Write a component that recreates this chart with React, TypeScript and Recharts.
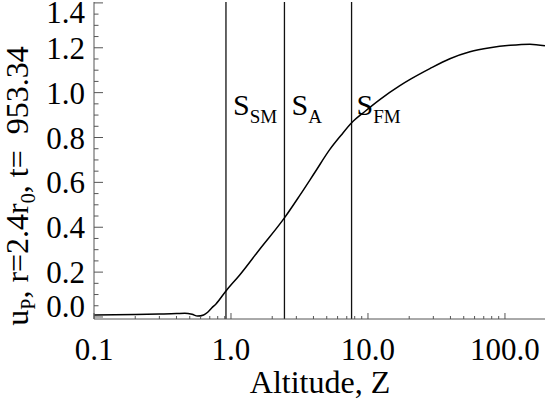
import { Line, LineChart, ReferenceLine, XAxis, YAxis } from "recharts";

// altitude Z (log axis) and u_P
const altitude = [
  0.1, 0.2, 0.3, 0.4, 0.46, 0.52, 0.571, 0.631, 0.676, 0.723, 0.777, 0.919,
  1.158, 1.621, 2.471, 3.179, 4.09, 5.27, 6.34, 7.63, 9.49, 12.2, 17.1, 20.6,
  28.3, 39.6, 55.5, 77.8, 109, 152, 196,
];
const velocity = [
  0.009, 0.011, 0.013, 0.015, 0.017, 0.012, 0.004, 0.009, 0.021, 0.04, 0.058,
  0.116, 0.187, 0.302, 0.444, 0.542, 0.644, 0.747, 0.809, 0.867, 0.916, 0.969,
  1.031, 1.061, 1.107, 1.151, 1.182, 1.2, 1.211, 1.216, 1.209,
];

// surfaces: slow magnetosonic, Alfven, fast magnetosonic
const surfaceZ = [0.919, 2.456, 7.59];
const surfaceNames = ["SM", "A", "FM"];

const xMajor = [0.1, 1, 10, 100];
const xMinor = [
  0.2, 0.3, 0.4, 0.5, 0.6, 0.7, 0.8, 0.9, 2, 3, 4, 5, 6, 7, 8, 9, 20, 30, 40,
  50, 60, 70, 80, 90,
];
const yMajor = [0, 0.2, 0.4, 0.6, 0.8, 1.0, 1.2, 1.4];
const yMinor = [
  0.05, 0.1, 0.15, 0.25, 0.3, 0.35, 0.45, 0.5, 0.55, 0.65, 0.7, 0.75, 0.85,
  0.9, 0.95, 1.05, 1.1, 1.15, 1.25, 1.3, 1.35,
];

const data = altitude.map((z, i) => ({ z, u: velocity[i] }));

const FONT = "'Liberation Serif', 'Times New Roman', serif";
const AXIS = "#555";

const near = (list: number[], v: number) =>
  list.some((m) => Math.abs(m - v) < 1e-9);

const XTick = (props: any) => {
  const { x, y, payload, side } = props;
  const major = near(xMajor, payload.value);
  const len = major ? 6 : 3;
  const dir = side === "top" ? 1 : -1;
  return (
    <g>
      <line x1={x} x2={x} y1={y} y2={y + dir * len} stroke={AXIS} />
      {major && side !== "top" && (
        <text
          x={x}
          y={y + 41}
          textAnchor="middle"
          fontFamily={FONT}
          fontSize={31}
          fill="#000"
        >
          {payload.value.toFixed(1)}
        </text>
      )}
    </g>
  );
};

const YTick = (props: any) => {
  const { x, y, payload, side } = props;
  const major = near(yMajor, payload.value);
  const len = major ? 9 : 4.5;
  const dir = side === "right" ? -1 : 1;
  const base = Math.min(Math.max(y + 11, 23), 317);
  return (
    <g>
      <line x1={x} x2={x + dir * len} y1={y} y2={y} stroke={AXIS} />
      {major && side !== "right" && (
        <text
          x={x - 9}
          y={base}
          textAnchor="end"
          fontFamily={FONT}
          fontSize={31}
          fill="#000"
        >
          {payload.value.toFixed(1)}
        </text>
      )}
    </g>
  );
};

const SurfaceLabel = (props: any) => {
  const { viewBox, name } = props;
  const x = (viewBox?.x ?? 0) + (name === "FM" ? 5 : 7);
  return (
    <text x={x} y={115} fontFamily={FONT} fontSize={30} fill="#000">
      S
      <tspan fontSize={19} dy={8}>
        {name}
      </tspan>
    </text>
  );
};

export default function App() {
  return (
    <div style={{ position: "absolute", left: 0, top: 0 }}>
      <LineChart
        width={546}
        height={399}
        data={data}
        margin={{ top: 2, right: 1, left: 0, bottom: 0 }}
      >
        <XAxis
          dataKey="z"
          type="number"
          scale="log"
          domain={[0.1, 196]}
          allowDataOverflow
          ticks={[...xMajor, ...xMinor]}
          interval={0}
          height={80}
          tickSize={0}
          tickMargin={0}
          tickLine={false}
          axisLine={{ stroke: AXIS }}
          tick={<XTick side="bottom" />}
        />
        <XAxis
          xAxisId="top"
          orientation="top"
          dataKey="z"
          type="number"
          scale="log"
          domain={[0.1, 196]}
          allowDataOverflow
          ticks={[...xMajor, ...xMinor]}
          interval={0}
          height={0}
          tickSize={0}
          tickMargin={0}
          tickLine={false}
          axisLine={{ stroke: AXIS }}
          tick={<XTick side="top" />}
        />
        <YAxis
          type="number"
          domain={[-0.009, 1.404]}
          allowDataOverflow
          ticks={[...yMajor, ...yMinor]}
          interval={0}
          width={94}
          tickSize={0}
          tickMargin={0}
          tickLine={false}
          axisLine={{ stroke: AXIS }}
          tick={<YTick side="left" />}
        />
        <YAxis
          yAxisId="right"
          orientation="right"
          type="number"
          domain={[-0.009, 1.404]}
          allowDataOverflow
          ticks={[...yMajor, ...yMinor]}
          interval={0}
          width={0}
          tickSize={0}
          tickMargin={0}
          tickLine={false}
          axisLine={{ stroke: AXIS }}
          tick={<YTick side="right" />}
        />
        {surfaceZ.map((z, i) => (
          <ReferenceLine
            key={z}
            x={z}
            stroke="#111"
            strokeWidth={1.3}
            label={<SurfaceLabel name={surfaceNames[i]} />}
          />
        ))}
        <Line
          type="monotone"
          dataKey="u"
          stroke="#000"
          strokeWidth={1.5}
          dot={false}
          isAnimationActive={false}
        />
        <text
          x={320}
          y={393}
          textAnchor="middle"
          fontFamily={FONT}
          fontSize={32}
          fill="#000"
        >
          Altitude, Z
        </text>
        <text
          transform="rotate(-90, 28, 186)"
          x={28}
          y={186}
          textAnchor="middle"
          fontFamily={FONT}
          fontSize={32}
          fill="#000"
        >
          u<tspan fontSize={20} dy={7}>P</tspan>
          <tspan dy={-7}>, r=2.4r</tspan>
          <tspan fontSize={20} dy={7}>0</tspan>
          <tspan dy={-7}>{", t=\u00a0\u00a0953.34"}</tspan>
        </text>
      </LineChart>
    </div>
  );
}
